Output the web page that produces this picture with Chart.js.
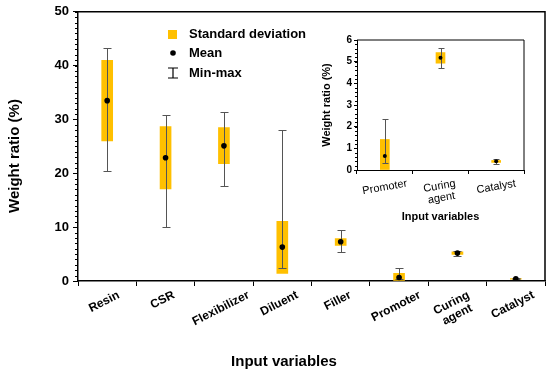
<!DOCTYPE html>
<html>
<head>
<meta charset="utf-8">
<script src="https://cdn.jsdelivr.net/npm/chart.js@4.4.1/dist/chart.umd.min.js"></script>
<style>
  html, body { margin: 0; padding: 0; background: #fff; }
  #wrap { position: relative; width: 550px; height: 375px; }
  .box { position: absolute; }
</style>
</head>
<body>
<div id="wrap">
  <div class="box" style="left:0;top:0;width:550px;height:375px"><canvas id="mainChart"></canvas></div>
  <div class="box" style="left:315px;top:30px;width:225px;height:195px"><canvas id="insetChart"></canvas></div>
</div>
<script>
// data (weight ratio, %)
const categories = ["Resin", "CSR", "Flexibilizer", "Diluent", "Filler", "Promoter", ["Curing", "agent"], "Catalyst"];
const meanValues = [33.5, 22.9, 25.1, 6.3, 7.3, 0.65, 5.18, 0.4];
const sdLow = [26.0, 17.1, 21.8, 1.4, 6.6, 0, 4.93, 0.35];
const sdHigh = [41.0, 28.7, 28.5, 11.1, 7.9, 1.41, 5.42, 0.44];
const minValues = [20.4, 10.0, 17.7, 2.5, 5.4, 0.31, 4.72, 0.29];
const maxValues = [43.3, 30.8, 31.4, 28.0, 9.5, 2.36, 5.65, 0.52];
const mainTicks = [0, 10, 20, 30, 40, 50];
const insetTicks = [0, 1, 2, 3, 4, 5, 6];
const insetFrom = 5; // Promoter, Curing agent, Catalyst in the zoomed view
const legendLabels = ["Standard deviation", "Mean", "Min-max"];

const FONT = 'Arial, "Liberation Sans", sans-serif';
const GOLD = "#FFC000";
const WHISKER = "#555555";

// min-max whiskers, drawn right after the bars so the mean dots sit on top
const whiskerPlugin = {
  id: "whiskers",
  afterDatasetDraw(chart, args, opts) {
    if (args.index !== 0) return;
    const x = chart.scales.x, y = chart.scales.y, ctx = chart.ctx;
    ctx.save();
    ctx.strokeStyle = WHISKER;
    ctx.lineWidth = 1;
    opts.lo.forEach(function (v, i) {
      const px = Math.round(x.getPixelForValue(i)) + 0.5;
      const yTop = Math.round(y.getPixelForValue(opts.hi[i])) + 0.5;
      const yBot = Math.round(y.getPixelForValue(v)) + 0.5;
      ctx.beginPath();
      ctx.moveTo(px, yTop); ctx.lineTo(px, yBot);
      ctx.moveTo(px - opts.cap, yTop); ctx.lineTo(px + opts.cap, yTop);
      ctx.moveTo(px - opts.cap, yBot); ctx.lineTo(px + opts.cap, yBot);
      ctx.stroke();
    });
    ctx.restore();
  }
};

// top/right frame + minor ticks on the y axis
const framePlugin = {
  id: "frame",
  afterDraw(chart, args, opts) {
    const ctx = chart.ctx, a = chart.chartArea, y = chart.scales.y;
    ctx.save();
    ctx.strokeStyle = "#000";
    ctx.lineWidth = opts.width;
    ctx.beginPath();
    ctx.moveTo(a.left, a.top);
    ctx.lineTo(a.right, a.top);
    ctx.lineTo(a.right, a.bottom);
    ctx.stroke();
    ctx.lineWidth = 1;
    ctx.beginPath();
    const n = Math.round((y.max - y.min) / opts.minorStep);
    for (let i = 0; i <= n; i++) {
      const py = Math.round(y.getPixelForValue(y.min + i * opts.minorStep)) + 0.5;
      ctx.moveTo(a.left - opts.minorLen, py);
      ctx.lineTo(a.left, py);
    }
    ctx.stroke();
    ctx.restore();
  }
};

// slanted category labels, centred under each category like the original
const catLabelPlugin = {
  id: "catLabels",
  afterDraw(chart, args, opts) {
    const ctx = chart.ctx, x = chart.scales.x;
    const ang = opts.angle * Math.PI / 180;
    const cos = Math.cos(ang), sin = Math.sin(ang);
    ctx.save();
    ctx.fillStyle = "#000";
    ctx.font = opts.font;
    ctx.textAlign = "center";
    ctx.textBaseline = "middle";
    chart.data.labels.forEach(function (label, i) {
      const lines = [].concat(label);
      const w = Math.max.apply(null, lines.map(function (t) { return ctx.measureText(t).width; }));
      const h = opts.size + (lines.length - 1) * opts.lineHeight;
      const boxH = w * sin + h * cos;
      ctx.save();
      ctx.translate(x.getPixelForValue(i) + opts.dx, x.top + opts.gap + boxH / 2);
      ctx.rotate(-ang);
      lines.forEach(function (t, k) {
        ctx.fillText(t, 0, (k - (lines.length - 1) / 2) * opts.lineHeight);
      });
      ctx.restore();
    });
    ctx.restore();
  }
};

// legend and axis titles of the big chart
const mainTextPlugin = {
  id: "mainText",
  afterDraw(chart) {
    const ctx = chart.ctx;
    ctx.save();
    ctx.fillStyle = "#000";
    ctx.textBaseline = "middle";
    ctx.textAlign = "center";
    ctx.font = "bold 15px " + FONT;
    ctx.fillText("Input variables", 284, 362);
    ctx.save();
    ctx.translate(15, 156);
    ctx.rotate(-Math.PI / 2);
    ctx.fillText("Weight ratio (%)", 0, 0);
    ctx.restore();

    // legend
    ctx.textAlign = "left";
    ctx.font = "bold 13px " + FONT;
    const lx = 173, rows = [34, 53, 73];
    ctx.fillStyle = GOLD;
    ctx.fillRect(lx - 5, rows[0] - 4, 9, 9);
    ctx.fillStyle = "#000";
    ctx.beginPath();
    ctx.arc(lx, rows[1], 2.8, 0, Math.PI * 2);
    ctx.fill();
    ctx.strokeStyle = "#000";
    ctx.lineWidth = 1.2;
    ctx.beginPath();
    ctx.moveTo(lx, rows[2] - 5); ctx.lineTo(lx, rows[2] + 5);
    ctx.moveTo(lx - 5, rows[2] - 5); ctx.lineTo(lx + 5, rows[2] - 5);
    ctx.moveTo(lx - 5, rows[2] + 5); ctx.lineTo(lx + 5, rows[2] + 5);
    ctx.stroke();
    legendLabels.forEach(function (t, i) {
      ctx.fillText(t, 189, rows[i]);
    });
    ctx.restore();
  }
};

function makeDatasets(from, barW, dotR) {
  return [
    {
      type: "bar",
      data: sdLow.slice(from).map(function (v, i) { return [v, sdHigh[from + i]]; }),
      backgroundColor: GOLD,
      barThickness: barW,
      order: 2
    },
    {
      type: "line",
      data: meanValues.slice(from),
      showLine: false,
      pointRadius: dotR,
      pointBackgroundColor: "#000",
      pointBorderWidth: 0,
      order: 1
    }
  ];
}

let mainChart = new Chart(document.getElementById("mainChart"), {
  type: "bar",
  data: { labels: categories, datasets: makeDatasets(0, 11, 2.8) },
  options: {
    responsive: true,
    maintainAspectRatio: false,
    animation: false,
    layout: { padding: { top: 11, right: 5, left: 0, bottom: 0 } },
    plugins: {
      legend: { display: false },
      tooltip: { enabled: false },
      whiskers: { lo: minValues, hi: maxValues, cap: 4 },
      frame: { width: 1.5, minorStep: 1, minorLen: 3 },
      catLabels: { angle: 27, font: "bold 12px " + FONT, size: 12, lineHeight: 13, gap: 8, dx: -3 }
    },
    scales: {
      x: {
        grid: { drawOnChartArea: false, tickLength: 5, color: "#000", offset: true },
        border: { color: "#000", width: 1.5 },
        ticks: { display: false },
        afterFit: function (s) { s.height = 94; }
      },
      y: {
        min: mainTicks[0],
        max: mainTicks[mainTicks.length - 1],
        afterBuildTicks: function (s) { s.ticks = mainTicks.map(function (v) { return { value: v }; }); },
        grid: { drawOnChartArea: false, tickLength: 5, color: "#000" },
        border: { color: "#000", width: 1.5 },
        ticks: { color: "#000", font: { family: FONT, size: 13, weight: "bold" }, padding: 4 },
        afterFit: function (s) { s.width = 78; }
      }
    }
  },
  plugins: [whiskerPlugin, framePlugin, catLabelPlugin, mainTextPlugin]
});

let insetChart = new Chart(document.getElementById("insetChart"), {
  type: "bar",
  data: { labels: categories.slice(insetFrom), datasets: makeDatasets(insetFrom, 9, 2) },
  options: {
    responsive: true,
    maintainAspectRatio: false,
    animation: false,
    layout: { padding: { top: 10, right: 16, left: 0, bottom: 0 } },
    plugins: {
      legend: { display: false },
      tooltip: { enabled: false },
      whiskers: { lo: minValues.slice(insetFrom), hi: maxValues.slice(insetFrom), cap: 3 },
      frame: { width: 1, minorStep: 0.2, minorLen: 2 },
      catLabels: { angle: 10, font: "11px " + FONT, size: 11, lineHeight: 12, gap: 8, dx: 0 }
    },
    scales: {
      x: {
        grid: { drawOnChartArea: false, tickLength: 4, color: "#000", offset: true },
        border: { color: "#000", width: 1 },
        ticks: { display: false },
        title: {
          display: true,
          text: "Input variables",
          color: "#000",
          font: { family: FONT, size: 11, weight: "bold" },
          padding: 1
        },
        afterFit: function (s) { s.height = 55; }
      },
      y: {
        min: insetTicks[0],
        max: insetTicks[insetTicks.length - 1],
        afterBuildTicks: function (s) { s.ticks = insetTicks.map(function (v) { return { value: v }; }); },
        grid: { drawOnChartArea: false, tickLength: 3, color: "#000" },
        border: { color: "#000", width: 1 },
        ticks: { color: "#000", font: { family: FONT, size: 10, weight: "bold" }, padding: 2 },
        title: {
          display: true,
          text: "Weight ratio (%)",
          color: "#000",
          font: { family: FONT, size: 11, weight: "bold" },
          padding: 5
        },
        afterFit: function (s) { s.width = 42; }
      }
    }
  },
  plugins: [whiskerPlugin, framePlugin, catLabelPlugin]
});
</script>
</body>
</html>
